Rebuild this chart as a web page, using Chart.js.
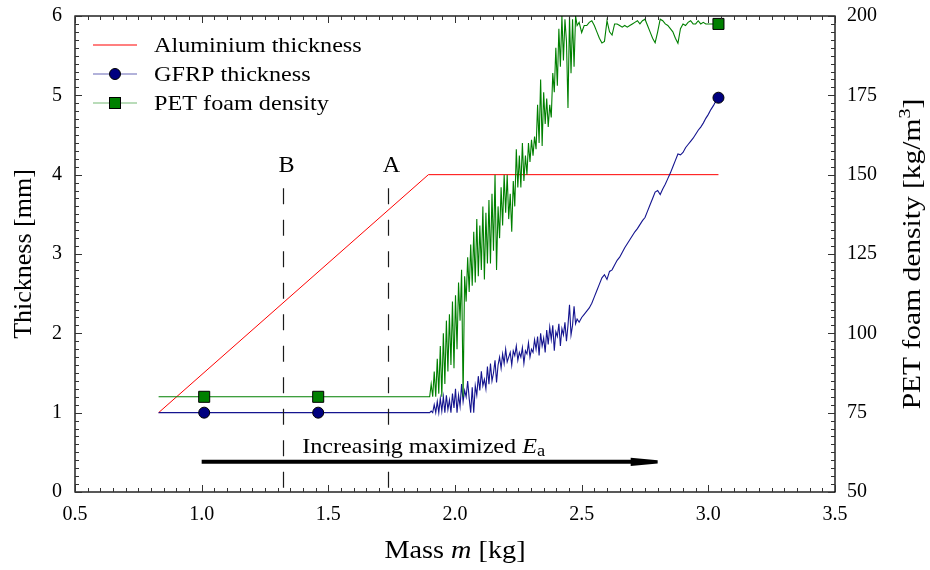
<!DOCTYPE html>
<html>
<head>
<meta charset="utf-8">
<script src="https://cdn.jsdelivr.net/npm/chart.js@4.4.1/dist/chart.umd.min.js"></script>
<style>
html,body{margin:0;padding:0;background:#fff;}
#wrap{width:930px;height:570px;}
</style>
</head>
<body>
<div id="wrap"><canvas id="c" width="930" height="570"></canvas></div>
<script>
// ---------------- data ----------------
// Mass [kg] grid shared by the GFRP thickness and PET foam density series
const mass = [
  0.83, 1.01, 1.46,
  1.900,1.906,1.912,1.918,1.924,1.930,1.936,1.942,1.948,1.954,
  1.960,1.966,1.972,1.978,1.984,1.990,1.996,2.002,2.008,2.014,
  2.020,2.026,2.032,2.038,2.044,2.050,2.056,2.062,2.068,2.074,
  2.080,2.086,2.092,2.098,2.104,2.110,2.116,2.122,2.128,2.134,
  2.140,2.146,2.152,2.158,2.164,2.170,2.176,2.182,2.188,2.194,
  2.200,2.206,2.212,2.218,2.224,2.230,2.236,2.242,2.248,2.254,
  2.260,2.266,2.272,2.278,2.284,2.290,2.296,2.302,2.308,2.314,
  2.320,2.326,2.332,2.338,2.344,2.350,2.356,2.362,2.368,2.374,
  2.380,2.386,2.392,2.398,2.404,2.410,2.416,2.422,2.428,2.434,
  2.440,2.446,2.452,2.458,2.464,2.470,2.476,2.482,
  2.49,2.50,2.51,2.52,2.53,2.54,2.55,2.56,2.57,2.58,
  2.59,2.60,2.61,2.62,2.63,2.64,2.65,2.66,2.67,2.68,
  2.69,2.70,2.71,2.72,2.73,2.74,2.75,2.76,2.77,2.78,
  2.79,2.80,2.81,2.82,2.83,2.84,2.85,2.86,2.87,2.88,
  2.89,2.90,2.91,2.92,2.93,2.94,2.95,2.96,2.97,2.98,
  2.99,3.00,3.01,3.02,3.03,3.04
];

// GFRP thickness [mm]
const gfrpThickness = [
  1.00, 1.00, 1.00,
  1.00,1.02,1.00,1.10,1.00,1.14,1.00,1.18,1.02,1.20,
  1.00,1.22,1.04,1.16,1.00,1.24,1.06,1.30,1.00,1.22,
  1.08,1.36,1.14,1.28,1.20,1.40,1.18,1.00,1.32,1.00,
  1.34,1.22,1.46,1.28,1.52,1.34,1.42,1.30,1.58,1.36,
  1.62,1.40,1.50,1.66,1.38,1.60,1.70,1.56,1.74,1.62,
  1.80,1.64,1.70,1.76,1.60,1.78,1.72,1.84,1.66,1.76,
  1.70,1.82,1.62,1.78,1.74,1.88,1.70,1.80,1.76,1.92,
  1.80,1.96,1.72,2.00,1.84,1.94,1.76,2.04,1.86,2.08,
  1.92,2.10,1.78,2.02,1.96,2.12,1.84,2.06,1.98,2.14,
  1.90,2.10,2.36,1.98,2.10,2.34,2.12,2.18,
  2.14,2.20,2.24,2.28,2.32,2.38,2.46,2.54,2.62,2.70,
  2.74,2.68,2.78,2.80,2.86,2.92,2.96,3.02,3.08,3.13,
  3.18,3.23,3.28,3.32,3.37,3.42,3.46,3.54,3.62,3.70,
  3.78,3.80,3.75,3.82,3.88,3.95,4.02,4.10,4.18,4.26,
  4.25,4.28,4.34,4.38,4.42,4.46,4.51,4.56,4.60,4.65,
  4.71,4.76,4.82,4.87,4.93,4.97
];

// PET foam density [kg/m^3]
const petDensity = [
  80, 80, 80,
  80,84,80,88,80,92,81,96,80,100,
  84,104,88,106,90,110,89,112,95,116,
  104,120,80,118,110,124,113,128,115,132,
  116,136,118,134,120,140,117,138,122,142,
  122,144,126,150,120,140,130,146,134,150,
  138,150,136,144,132,148,140,158,146,156,
  146,160,148,156,150,160,154,161,156,162,
  158,172,160,180,159,176,166,174,165,172,
  168,182,176,190,178,196,184,200,186,199,
  192,171,200,182,199,184,200,197,
  198,194.8,197,197,198,198.5,197,195,193,191.5,
  192,198.5,195,194,197.5,197.5,197,196.5,197,196.5,
  197,197.5,198,198.5,197.5,198.5,199,197,195,193,
  191.6,195,199,198.5,197.5,197,196,195,193,191.4,
  196,197.5,197,198,198.5,197.5,197.5,198.5,197.5,198,
  197.5,197.5,197.5,197.5,197.5,197.5
];

// Aluminium thickness [mm]
const aluMass = [0.83, 1.895, 3.04];
const aluThickness = [1.0, 4.0, 4.0];

// Indices of the series points that carry a marker
const markerIndex = [1, 2, mass.length - 1];

// Design points (dashed verticals)
const designLabels = ['B', 'A'];
const designMass = [1.32, 1.735];

// Arrow annotation
const arrowMass = [1.0, 2.80];
const arrowLevel = 0.38;           // in mm (left axis)
const arrowText = ['Increasing maximized ', 'E', 'a'];

// Axis ticks
const xTicks = [0.5, 1.0, 1.5, 2.0, 2.5, 3.0, 3.5];
const yTicks = [0, 1, 2, 3, 4, 5, 6];
const y2Ticks = [50, 75, 100, 125, 150, 175, 200];

const seriesNames = ['Aluminium thickness', 'GFRP thickness', 'PET foam density'];

// ---------------- styles ----------------
const SERIF = '"Liberation Serif", "Times New Roman", serif';
const RED = '#ff0000', BLUE = '#14148f', BLUE_M = '#00007f', GREEN = '#008000';

const pts = (xs, ys) => xs.map((x, i) => ({x: x, y: ys[i]}));

// Draw mixed-style text; hs = horizontal stretch (Computer Modern is wider than Times)
function drawRich(ctx, parts, x, y, align, hs) {
  hs = hs || 1;
  let w = 0;
  parts.forEach(p => { ctx.font = p.font; w += ctx.measureText(p.t).width; });
  ctx.save();
  ctx.translate(align === 'center' ? x - w * hs / 2 : x, y);
  ctx.scale(hs, 1);
  let cx = 0;
  parts.forEach(p => {
    ctx.font = p.font;
    ctx.fillText(p.t, cx, p.dy || 0);
    cx += ctx.measureText(p.t).width;
  });
  ctx.restore();
}

const decorPlugin = {
  id: 'decor',
  afterDatasetsDraw(chart) {
    const {ctx, chartArea: a, scales} = chart;
    const sx = scales.x, sy = scales.y, sy2 = scales.y2;
    ctx.save();
    ctx.fillStyle = '#000';

    // ---- dashed design lines and their labels
    ctx.strokeStyle = '#1a1a1a';
    ctx.lineWidth = 1.2;
    ctx.setLineDash([16, 15.5]);
    designMass.forEach((m, i) => {
      const px = Math.round(sx.getPixelForValue(m)) + 0.5;
      ctx.beginPath();
      ctx.moveTo(px, sy.getPixelForValue(3.83));
      ctx.lineTo(px, sy.getPixelForValue(0));
      ctx.stroke();
      ctx.textAlign = 'left';
      ctx.textBaseline = 'alphabetic';
      drawRich(ctx, [{t: designLabels[i], font: '23px ' + SERIF}], px + 3, sy.getPixelForValue(4.03), 'center', 1.05);
    });
    ctx.setLineDash([]);

    // ---- arrow
    const ay = sy.getPixelForValue(arrowLevel);
    const ax0 = sx.getPixelForValue(arrowMass[0]);
    const ax1 = sx.getPixelForValue(arrowMass[1]);
    const headBase = ax1 - 27;
    ctx.strokeStyle = '#000';
    ctx.lineWidth = 4;
    ctx.beginPath(); ctx.moveTo(ax0, ay); ctx.lineTo(headBase + 1, ay); ctx.stroke();
    ctx.beginPath();
    ctx.moveTo(headBase, ay - 4.2);
    ctx.lineTo(ax1, ay - 1.6);
    ctx.lineTo(ax1, ay + 1.6);
    ctx.lineTo(headBase, ay + 4.2);
    ctx.closePath(); ctx.fill();
    ctx.textAlign = 'left';
    ctx.textBaseline = 'alphabetic';
    drawRich(ctx, [
      {t: arrowText[0], font: '21px ' + SERIF},
      {t: arrowText[1], font: 'italic 21px ' + SERIF},
      {t: arrowText[2], font: '16px ' + SERIF, dy: 3}
    ], (ax0 + ax1) / 2 - 6, ay - 9, 'center', 1.15);

    // ---- frame
    ctx.strokeStyle = '#000';
    ctx.lineWidth = 1.3;
    ctx.strokeRect(a.left, a.top, a.right - a.left, a.bottom - a.top);

    // ---- inward ticks
    ctx.strokeStyle = '#333';
    ctx.lineWidth = 1;
    const seg = (x0, y0, x1, y1) => { ctx.beginPath(); ctx.moveTo(x0, y0); ctx.lineTo(x1, y1); ctx.stroke(); };
    for (let i = 0; i <= 60; i++) {
      const v = 0.5 + i * 0.05;
      const len = i % 10 === 0 ? 7 : 4;
      const px = Math.round(sx.getPixelForValue(v)) + 0.5;
      seg(px, a.bottom, px, a.bottom - len);
      seg(px, a.top, px, a.top + len);
    }
    for (let i = 0; i <= 60; i++) {
      const len = i % 10 === 0 ? 7 : 4;
      const py = Math.round(sy.getPixelForValue(i * 0.1)) + 0.5;
      seg(a.left, py, a.left + len, py);
      const py2 = Math.round(sy2.getPixelForValue(50 + i * 2.5)) + 0.5;
      seg(a.right, py2, a.right - len, py2);
    }

    // ---- legend
    const lx0 = a.left + 18, lx1 = a.left + 62, lmx = (lx0 + lx1) / 2, ltx = a.left + 79;
    const rows = [a.top + 29, a.top + 58, a.top + 87];
    ctx.lineWidth = 1.2;
    ctx.strokeStyle = RED;
    seg(lx0, rows[0], lx1, rows[0]);
    ctx.strokeStyle = 'rgba(20,20,143,0.65)';
    seg(lx0, rows[1], lx1, rows[1]);
    ctx.fillStyle = BLUE_M; ctx.strokeStyle = '#000'; ctx.lineWidth = 1;
    ctx.beginPath(); ctx.arc(lmx, rows[1], 5.5, 0, Math.PI * 2); ctx.fill(); ctx.stroke();
    ctx.lineWidth = 1.2;
    ctx.strokeStyle = 'rgba(0,128,0,0.55)';
    seg(lx0, rows[2], lx1, rows[2]);
    ctx.fillStyle = GREEN; ctx.strokeStyle = '#000'; ctx.lineWidth = 1;
    ctx.fillRect(lmx - 5.5, rows[2] - 5.5, 11, 11);
    ctx.strokeRect(lmx - 5.5, rows[2] - 5.5, 11, 11);
    ctx.fillStyle = '#000';
    ctx.textAlign = 'left';
    ctx.textBaseline = 'middle';
    seriesNames.forEach((n, i) => drawRich(ctx, [{t: n, font: '22px ' + SERIF}], ltx, rows[i] + 1, 'left', 1.1));

    // ---- axis titles
    ctx.textBaseline = 'alphabetic';
    drawRich(ctx, [
      {t: 'Mass ', font: '25px ' + SERIF},
      {t: 'm', font: 'italic 25px ' + SERIF},
      {t: ' [kg]', font: '25px ' + SERIF}
    ], (a.left + a.right) / 2, 558, 'center', 1.13);

    const cy = (a.top + a.bottom) / 2;
    ctx.save();
    ctx.translate(31, cy);
    ctx.rotate(-Math.PI / 2);
    drawRich(ctx, [{t: 'Thickness [mm]', font: '25px ' + SERIF}], 0, 0, 'center', 1.04);
    ctx.restore();

    ctx.save();
    ctx.translate(920, cy);
    ctx.rotate(-Math.PI / 2);
    drawRich(ctx, [
      {t: 'PET foam density [kg/m', font: '25px ' + SERIF},
      {t: '3', font: '17px ' + SERIF, dy: -10},
      {t: ']', font: '25px ' + SERIF}
    ], 0, 0, 'center', 1.18);
    ctx.restore();

    ctx.restore();
  }
};

const markerRadius = (r) => (c) => markerIndex.includes(c.dataIndex) ? r : 0;
const noPadV = s => { s.paddingTop = 0; s.paddingBottom = 0; };

new Chart(document.getElementById('c'), {
  type: 'line',
  data: {
    datasets: [
      {
        label: seriesNames[0],
        data: pts(aluMass, aluThickness),
        yAxisID: 'y',
        borderColor: RED,
        borderWidth: 1,
        pointRadius: 0,
        order: 3
      },
      {
        label: seriesNames[1],
        data: pts(mass, gfrpThickness),
        yAxisID: 'y',
        borderColor: BLUE,
        borderWidth: 1.1,
        pointStyle: 'circle',
        pointRadius: markerRadius(5.5),
        pointBackgroundColor: BLUE_M,
        pointBorderColor: '#000',
        pointBorderWidth: 1,
        order: 2
      },
      {
        label: seriesNames[2],
        data: pts(mass, petDensity),
        yAxisID: 'y2',
        borderColor: GREEN,
        borderWidth: 1.1,
        pointStyle: 'rect',
        pointRadius: markerRadius(7.8),
        pointBackgroundColor: GREEN,
        pointBorderColor: '#000',
        pointBorderWidth: 1,
        order: 1
      }
    ]
  },
  options: {
    responsive: false,
    animation: false,
    devicePixelRatio: 1,
    layout: {padding: {top: 16, left: 0, right: 0, bottom: 0}},
    elements: {line: {tension: 0}, point: {hoverRadius: 0}},
    plugins: {legend: {display: false}, tooltip: {enabled: false}},
    events: [],
    scales: {
      x: {
        type: 'linear',
        min: 0.5, max: 3.5,
        afterFit: s => { s.height = 78; s.paddingLeft = 0; s.paddingRight = 0; },
        afterBuildTicks: s => { s.ticks = xTicks.map(v => ({value: v})); },
        grid: {display: false, drawTicks: false},
        border: {display: false},
        ticks: {
          color: '#000',
          font: {family: SERIF, size: 20},
          padding: 11,
          maxRotation: 0,
          callback: v => Number(v).toFixed(1)
        }
      },
      y: {
        type: 'linear',
        position: 'left',
        min: 0, max: 6,
        afterFit: s => { s.width = 75; noPadV(s); },
        afterBuildTicks: s => { s.ticks = yTicks.map(v => ({value: v})); },
        grid: {display: false, drawTicks: false},
        border: {display: false},
        ticks: {color: '#000', font: {family: SERIF, size: 20}, padding: 13}
      },
      y2: {
        type: 'linear',
        position: 'right',
        min: 50, max: 200,
        afterFit: s => { s.width = 95; noPadV(s); },
        afterBuildTicks: s => { s.ticks = y2Ticks.map(v => ({value: v})); },
        grid: {display: false, drawTicks: false},
        border: {display: false},
        ticks: {color: '#000', font: {family: SERIF, size: 20}, padding: 12}
      }
    }
  },
  plugins: [decorPlugin]
});
</script>
</body>
</html>
